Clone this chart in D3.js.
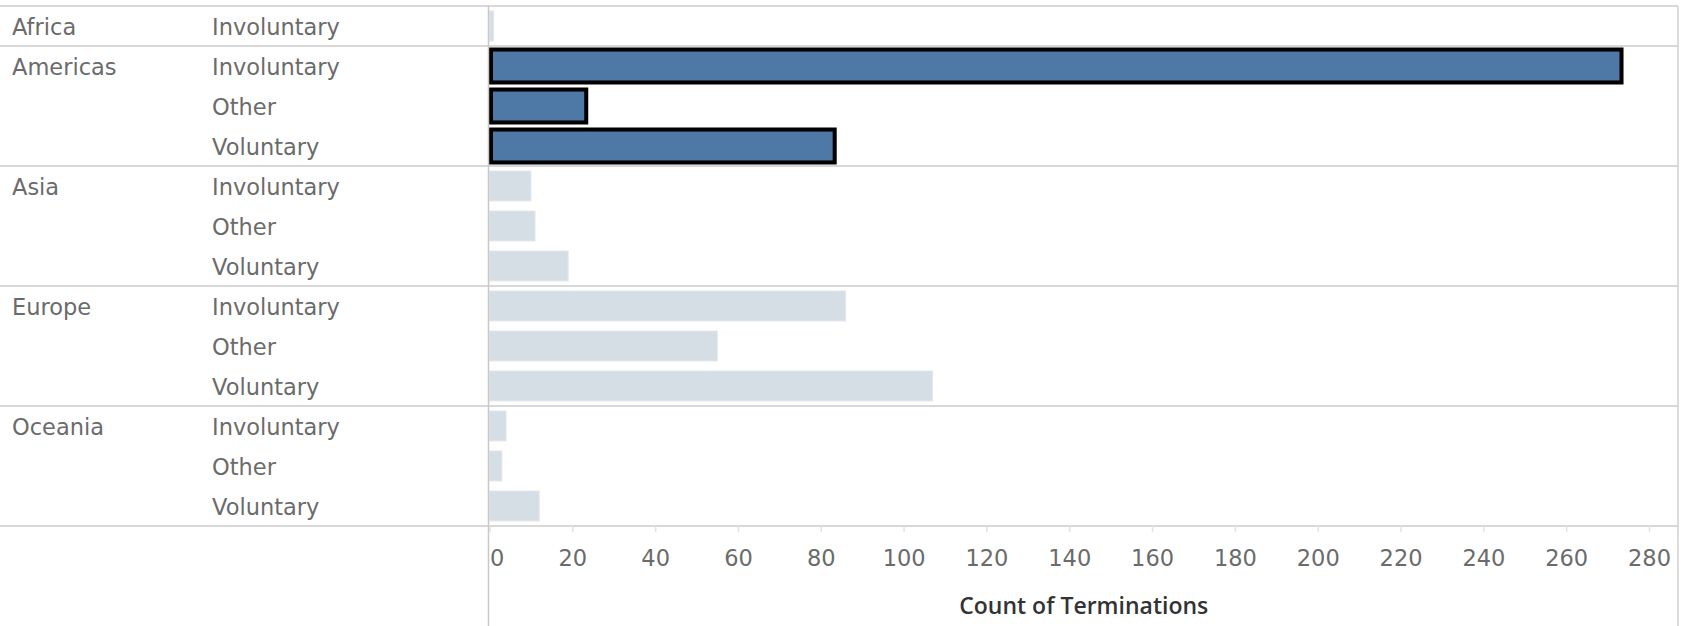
<!DOCTYPE html>
<html>
<head>
<meta charset="utf-8">
<script src="https://cdn.jsdelivr.net/npm/d3@7"></script>
<style>
  html, body { margin: 0; padding: 0; background: #ffffff; }
  svg { display: block; }
</style>
</head>
<body>
<svg id="chart" width="1682" height="626"></svg>
<script>
// ---- data ----
const regions = ["Africa", "Americas", "Asia", "Europe", "Oceania"];
const africaTypes = ["Involuntary"];
const standardTypes = ["Involuntary", "Other", "Voluntary"];
const africaCounts = [1];
const americasCounts = [273, 23, 83];
const asiaCounts = [10, 11, 19];
const europeCounts = [86, 55, 107];
const oceaniaCounts = [4, 3, 12];
const highlightedRegion = "Americas";
const xTickValues = [0, 20, 40, 60, 80, 100, 120, 140, 160, 180, 200, 220, 240, 260, 280];
const xAxisTitle = "Count of Terminations";

(function () {
const typesByRegion = [africaTypes, standardTypes, standardTypes, standardTypes, standardTypes];
const countsByRegion = [africaCounts, americasCounts, asiaCounts, europeCounts, oceaniaCounts];

const rows = [];
regions.forEach((r, i) => {
  typesByRegion[i].forEach((t, j) => {
    rows.push({ region: r, type: t, value: countsByRegion[i][j], first: j === 0, key: r + "|" + t });
  });
});

// ---- layout ----
const H = 626;
const paneLeft = 489.5, paneRight = 1678;
const plotTop = 6, rowH = 40;
const plotBottom = plotTop + rows.length * rowH;
const xMax = 287;

const svg = d3.select("#chart");
const x = d3.scaleLinear().domain([0, xMax]).range([paneLeft, paneRight]);
const y = d3.scaleBand().domain(rows.map(d => d.key)).range([plotTop, plotBottom])
  .paddingInner(0.25).paddingOuter(0.125);

const font = "'DejaVu Sans', sans-serif";
const lineColor = "#d8d8d8";

// bars
const bars = svg.append("g");
bars.selectAll("rect.bar").data(rows).enter().append("rect")
  .attr("class", "bar")
  .attr("x", x(0))
  .attr("y", d => y(d.key))
  .attr("width", d => x(d.value) - x(0))
  .attr("height", y.bandwidth())
  .attr("fill", d => d.region === highlightedRegion ? "#4e79a7" : "#d5dde5")
  .attr("stroke", d => d.region === highlightedRegion ? "#3b6190" : "#e3e8ee")
  .attr("stroke-width", 1);

// selection outline for highlighted region
bars.selectAll("rect.sel").data(rows.filter(d => d.region === highlightedRegion)).enter().append("rect")
  .attr("class", "sel")
  .attr("x", x(0) + 1.5)
  .attr("y", d => y(d.key) - 1.5)
  .attr("width", d => x(d.value) + 1.5 - (x(0) + 1.5))
  .attr("height", y.bandwidth() + 3)
  .attr("fill", "none")
  .attr("stroke", "#000")
  .attr("stroke-width", 4);

// group separators (full width)
const groupStarts = [];
regions.forEach((r, i) => {
  const firstKey = r + "|" + typesByRegion[i][0];
  groupStarts.push(y(firstKey) - y.step() * y.paddingInner() / 2);
});
groupStarts.push(plotBottom);
svg.append("g").selectAll("line").data(groupStarts).enter().append("line")
  .attr("x1", 0).attr("x2", paneRight)
  .attr("y1", d => d).attr("y2", d => d)
  .attr("stroke", lineColor).attr("stroke-width", 2);

// vertical lines: pane left & right
svg.append("line").attr("x1", paneLeft - 1).attr("x2", paneLeft - 1)
  .attr("y1", plotTop).attr("y2", H).attr("stroke", "#c8c8c8").attr("stroke-width", 1.5);
svg.append("line").attr("x1", paneRight).attr("x2", paneRight)
  .attr("y1", plotTop).attr("y2", H).attr("stroke", "#d0d0d0").attr("stroke-width", 1.5);

// header labels
const hdr = svg.append("g").attr("font-family", font).attr("font-size", 22.5).attr("fill", "#6b6b6b");
hdr.selectAll("text.region").data(rows.filter(d => d.first)).enter().append("text")
  .attr("class", "region")
  .attr("x", 12)
  .attr("y", d => y(d.key) + y.bandwidth() / 2 + 9)
  .text(d => d.region);
hdr.selectAll("text.type").data(rows).enter().append("text")
  .attr("class", "type")
  .attr("x", 212)
  .attr("y", d => y(d.key) + y.bandwidth() / 2 + 9)
  .text(d => d.type);

// x axis
const axis = d3.axisBottom(x).tickValues(xTickValues).tickSize(6).tickFormat(d3.format("d"));
const gx = svg.append("g").attr("transform", `translate(0,${plotBottom})`).call(axis);
gx.select(".domain").remove();
gx.selectAll(".tick line").attr("stroke", "#e2e2e2").attr("stroke-width", 1.5);
gx.selectAll(".tick text")
  .attr("font-family", font).attr("font-size", 22.5).attr("fill", "#6b6b6b")
  .attr("y", 40).attr("dy", null)
  .attr("text-anchor", d => d === 0 ? "start" : "middle");

svg.append("text")
  .attr("x", (paneLeft + paneRight) / 2)
  .attr("y", 614)
  .attr("text-anchor", "middle")
  .attr("font-family", "'Open Sans', sans-serif")
  .attr("font-weight", 600)
  .attr("font-size", 23)
  .attr("fill", "#333")
  .text(xAxisTitle);
})();
</script>
</body>
</html>
